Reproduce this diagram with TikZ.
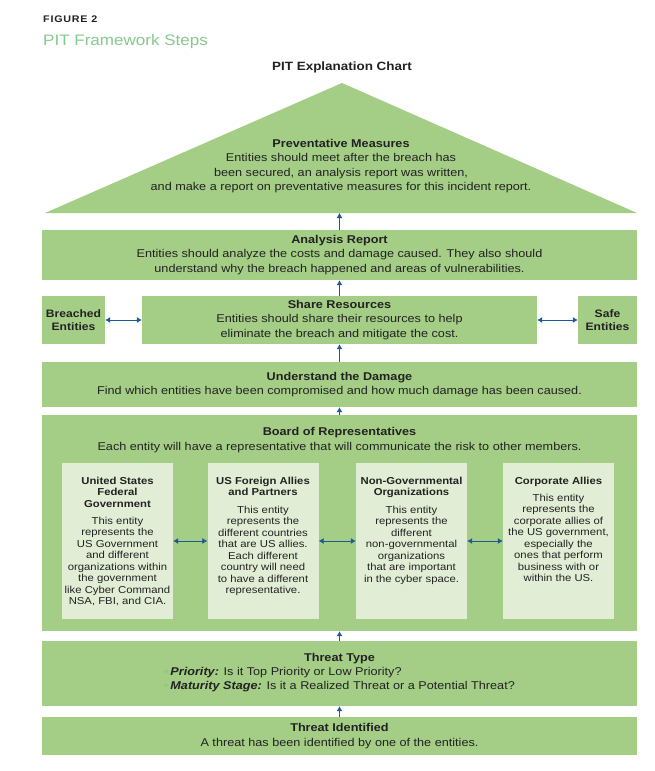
\documentclass[tikz,border=0pt]{standalone}
\usepackage{fontspec}
\setmainfont{Liberation Sans}[FakeStretch=1.12]
\usetikzlibrary{arrows.meta}
\definecolor{boxgreen}{HTML}{A4CD86}
\definecolor{innergreen}{HTML}{E2EDD5}
\definecolor{arrowblue}{HTML}{1D5B97}
\definecolor{titlegreen}{HTML}{86C98E}
\definecolor{txt}{HTML}{222222}
\begin{document}
\begin{tikzpicture}[x=1pt,y=-1pt,
  box/.style={fill=boxgreen, draw=none, inner sep=0pt, align=center, text=txt, font=\fontsize{11.3}{14.5}\selectfont},
  innerbox/.style={fill=innergreen, draw=none, inner sep=0pt, minimum width=111pt, minimum height=156pt},
  innertext/.style={anchor=north, align=center, text=txt, font=\fontsize{10.1}{11.5}\selectfont, inner sep=0pt},
  arr/.style={draw=arrowblue, line width=0.85pt, -{Latex[length=5pt,width=6pt]}},
  darr/.style={draw=arrowblue, line width=0.85pt, {Latex[length=5pt,width=6pt]}-{Latex[length=5pt,width=6pt]}}]
\useasboundingbox (0,0) rectangle (654,771);
\fill[white] (0,0) rectangle (654,771);
% headings
\node[anchor=base west, inner sep=0pt, text=txt, font=\bfseries\fontsize{9.6}{10}\selectfont] (fig) at (43,23) {\addfontfeature{LetterSpace=8}FIGURE 2};
\node[anchor=base west, inner sep=0pt, text=titlegreen, font=\fontsize{15.2}{16}\selectfont] (sub) at (43,45) {PIT Framework Steps};
\node[inner sep=0pt, text=txt, font=\bfseries\fontsize{12}{13}\selectfont] (chart) at (342,67) {PIT Explanation Chart};
% triangle
\fill[boxgreen] (45,213) -- (342,83) -- (637,213) -- cycle;
\coordinate (tribase) at (339.5,213);
\node[align=center, inner sep=0pt, text=txt, font=\fontsize{11.3}{14.5}\selectfont] (prev) at (341,166)
  {\textbf{Preventative Measures}\\Entities should meet after the breach has\\been secured, an analysis report was written,\\and make a report on preventative measures for this incident report.};
% main boxes
\node[box, minimum width=595pt, minimum height=50pt] (ana) at (339.5,255)
  {\textbf{Analysis Report}\\Entities should analyze the costs and damage caused. They also should\\understand why the breach happened and areas of vulnerabilities.};
\node[box, minimum width=395pt, minimum height=48pt] (share) at (339.5,320)
  {\textbf{Share Resources}\\Entities should share their resources to help\\eliminate the breach and mitigate the cost.};
\node[box, minimum width=63pt, minimum height=48pt, font=\bfseries\fontsize{10.8}{13}\selectfont] (breach) at (73.5,320) {Breached\\Entities};
\node[box, minimum width=59pt, minimum height=48pt, font=\bfseries\fontsize{10.8}{13}\selectfont] (safe) at (607.5,320) {Safe\\Entities};
\node[box, minimum width=595pt, minimum height=45pt] (under) at (339.5,384.5)
  {\textbf{Understand the Damage}\\Find which entities have been compromised and how much damage has been caused.};
\node[box, minimum width=595pt, minimum height=216pt] (board) at (339.5,523) {};
\node[align=center, inner sep=0pt, text=txt, font=\fontsize{11.3}{15.5}\selectfont] (boardtxt) at (339.5,440)
  {\textbf{Board of Representatives}\\Each entity will have a representative that will communicate the risk to other members.};
% inner boxes
\node[innerbox] (usg) at (117.5,541) {};
\node[innerbox] (allies) at (263,541) {};
\node[innerbox] (ngo) at (411.5,541) {};
\node[innerbox] (corp) at (558.5,541) {};
\node[innertext] (usgt) at (117.5,476.5)
  {\textbf{United States}\\\textbf{Federal}\\\textbf{Government}\\[5.5pt]This entity\\represents the\\US Government\\and different\\organizations within\\the government\\like Cyber Command\\NSA, FBI, and CIA.};
\node[innertext] (alliest) at (263,476.5)
  {\textbf{US Foreign Allies}\\\textbf{and Partners}\\[6pt]This entity\\represents the\\different countries\\that are US allies.\\Each different\\country will need\\to have a different\\representative.};
\node[innertext] (ngot) at (411.5,476.5)
  {\textbf{Non-Governmental}\\\textbf{Organizations}\\[6pt]This entity\\represents the\\different\\non-governmental\\organizations\\that are important\\in the cyber space.};
\node[innertext] (corpt) at (558.5,476.5)
  {\textbf{Corporate Allies}\\[5.5pt]This entity\\represents the\\corporate allies of\\the US government,\\especially the\\ones that perform\\business with or\\within the US.};
% threat boxes
\node[box, minimum width=595pt, minimum height=65pt] (ttype) at (339.5,673.5)
  {\textbf{Threat Type}\\[1pt]
   \begin{tabular}{@{}l@{}}
   {\color{titlegreen}\textbullet}\,\textbf{\textit{Priority:}} Is it Top Priority or Low Priority?\\[-0.5pt]
   {\color{titlegreen}\textbullet}\,\textbf{\textit{Maturity Stage:}} Is it a Realized Threat or a Potential Threat?
   \end{tabular}};
\node[box, minimum width=595pt, minimum height=38pt] (tid) at (339.5,736)
  {\textbf{Threat Identified}\\A threat has been identified by one of the entities.};
% connectors
\draw[arr] (ana.north) -- (tribase);
\draw[arr] (share.north) -- (ana.south);
\draw[arr] (under.north) -- (share.south);
\draw[arr] (board.north) -- (under.south);
\draw[arr] (ttype.north) -- (board.south);
\draw[arr] (tid.north) -- (ttype.south);
\draw[darr] (breach.east) -- (share.west);
\draw[darr] (share.east) -- (safe.west);
\draw[darr] (usg.east) -- (allies.west);
\draw[darr] (allies.east) -- (ngo.west);
\draw[darr] (ngo.east) -- (corp.west);
\end{tikzpicture}
\end{document}
